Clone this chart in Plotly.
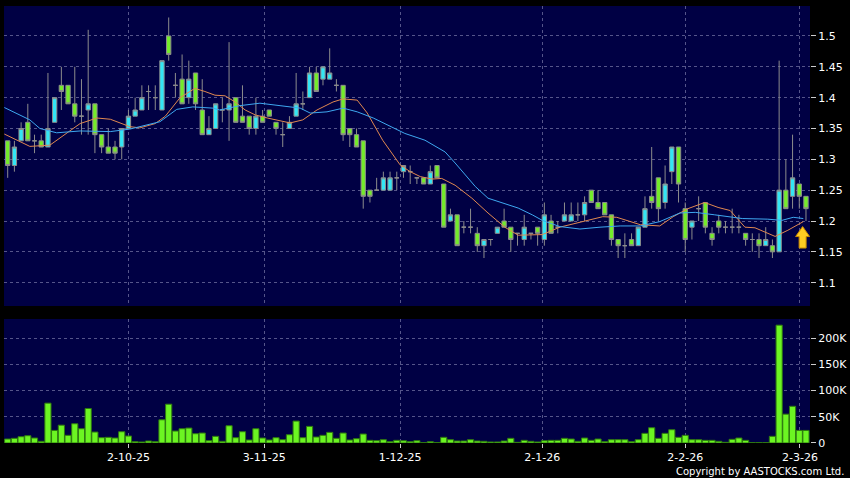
import plotly.graph_objects as go

# ---------------- data ----------------
idx = list(range(120))

opens = [1.33, 1.29, 1.33, 1.36, 1.33, 1.33, 1.32, 1.36, 1.42, 1.42,
         1.39, 1.37, 1.38, 1.39, 1.34, 1.32, 1.32, 1.32, 1.35, 1.37,
         1.38, 1.41, 1.40, 1.38, 1.50, 1.42, 1.43, 1.40, 1.44, 1.38,
         1.34, 1.35, 1.38, 1.38, 1.40, 1.37, 1.37, 1.35, 1.37, 1.38,
         1.36, 1.34, 1.35, 1.37, 1.39, 1.40, 1.44, 1.43, 1.43, 1.42,
         1.42, 1.35, 1.34, 1.33, 1.25, 1.25, 1.25, 1.25, 1.27, 1.28,
         1.28, 1.27, 1.27, 1.26, 1.29, 1.26, 1.20, 1.21, 1.19, 1.19,
         1.18, 1.16, 1.17, 1.18, 1.20, 1.19, 1.18, 1.17, 1.18, 1.19,
         1.17, 1.20, 1.19, 1.20, 1.20, 1.21, 1.21, 1.25, 1.23, 1.23,
         1.21, 1.17, 1.16, 1.17, 1.16, 1.19, 1.24, 1.27, 1.23, 1.28,
         1.32, 1.22, 1.19, 1.22, 1.23, 1.18, 1.20, 1.19, 1.19, 1.19,
         1.18, 1.17, 1.17, 1.16, 1.16, 1.15, 1.25, 1.24, 1.26, 1.24]
highs = [1.33, 1.33, 1.36, 1.39, 1.34, 1.34, 1.44, 1.40, 1.45, 1.42,
         1.45, 1.43, 1.51, 1.39, 1.34, 1.35, 1.33, 1.35, 1.38, 1.40,
         1.42, 1.42, 1.42, 1.46, 1.53, 1.44, 1.47, 1.46, 1.44, 1.43,
         1.37, 1.39, 1.40, 1.49, 1.40, 1.42, 1.37, 1.40, 1.38, 1.38,
         1.36, 1.36, 1.37, 1.44, 1.41, 1.45, 1.45, 1.45, 1.48, 1.43,
         1.42, 1.35, 1.35, 1.33, 1.25, 1.27, 1.28, 1.28, 1.28, 1.29,
         1.29, 1.27, 1.27, 1.29, 1.29, 1.26, 1.22, 1.21, 1.20, 1.22,
         1.19, 1.17, 1.17, 1.19, 1.22, 1.19, 1.18, 1.21, 1.18, 1.19,
         1.23, 1.21, 1.20, 1.23, 1.23, 1.23, 1.24, 1.25, 1.25, 1.23,
         1.21, 1.17, 1.18, 1.18, 1.19, 1.24, 1.32, 1.27, 1.29, 1.32,
         1.32, 1.23, 1.20, 1.24, 1.23, 1.19, 1.21, 1.20, 1.22, 1.21,
         1.18, 1.18, 1.18, 1.19, 1.17, 1.46, 1.30, 1.34, 1.26, 1.24]
lows = [1.27, 1.28, 1.33, 1.33, 1.31, 1.32, 1.32, 1.36, 1.38, 1.39,
        1.36, 1.34, 1.34, 1.31, 1.31, 1.31, 1.30, 1.30, 1.35, 1.37,
        1.38, 1.38, 1.38, 1.38, 1.46, 1.40, 1.39, 1.39, 1.38, 1.34,
        1.34, 1.35, 1.36, 1.33, 1.36, 1.36, 1.34, 1.34, 1.36, 1.37,
        1.34, 1.32, 1.35, 1.37, 1.38, 1.40, 1.41, 1.42, 1.43, 1.41,
        1.33, 1.32, 1.32, 1.22, 1.23, 1.25, 1.25, 1.25, 1.25, 1.27,
        1.26, 1.26, 1.26, 1.26, 1.27, 1.19, 1.20, 1.16, 1.18, 1.18,
        1.15, 1.14, 1.16, 1.18, 1.19, 1.15, 1.16, 1.16, 1.17, 1.16,
        1.16, 1.18, 1.18, 1.20, 1.20, 1.20, 1.20, 1.23, 1.22, 1.21,
        1.16, 1.14, 1.14, 1.16, 1.16, 1.19, 1.22, 1.20, 1.22, 1.26,
        1.23, 1.15, 1.17, 1.20, 1.18, 1.16, 1.18, 1.18, 1.18, 1.18,
        1.16, 1.15, 1.14, 1.16, 1.14, 1.15, 1.22, 1.22, 1.22, 1.20]
closes = [1.29, 1.32, 1.35, 1.33, 1.33, 1.32, 1.35, 1.40, 1.41, 1.39,
          1.37, 1.37, 1.39, 1.34, 1.32, 1.31, 1.31, 1.35, 1.37, 1.38,
          1.40, 1.41, 1.40, 1.46, 1.47, 1.42, 1.39, 1.43, 1.39, 1.34,
          1.35, 1.39, 1.38, 1.39, 1.36, 1.36, 1.35, 1.37, 1.36, 1.37,
          1.35, 1.34, 1.36, 1.39, 1.39, 1.44, 1.41, 1.45, 1.44, 1.42,
          1.34, 1.34, 1.32, 1.24, 1.24, 1.25, 1.27, 1.27, 1.27, 1.29,
          1.28, 1.27, 1.26, 1.28, 1.27, 1.19, 1.21, 1.16, 1.19, 1.19,
          1.16, 1.17, 1.17, 1.19, 1.19, 1.17, 1.18, 1.19, 1.18, 1.18,
          1.21, 1.18, 1.19, 1.21, 1.21, 1.21, 1.23, 1.23, 1.22, 1.21,
          1.17, 1.16, 1.16, 1.16, 1.19, 1.22, 1.23, 1.22, 1.26, 1.32,
          1.26, 1.17, 1.20, 1.22, 1.19, 1.17, 1.19, 1.19, 1.19, 1.19,
          1.17, 1.17, 1.16, 1.17, 1.15, 1.25, 1.22, 1.27, 1.24, 1.22]
volumes = [7600, 8900, 12000, 13900, 9500, 3200, 76000, 24000, 34000, 14600,
           36700, 27200, 65800, 20900, 10100, 10800, 9500, 21500, 13300, 2500,
           1900, 3800, 2500, 44300, 74000, 22800, 27200, 28500, 17700, 19000,
           4400, 12700, 3200, 32900, 10100, 21500, 5700, 27200, 9500, 5700,
           10100, 6300, 15800, 41800, 10100, 31700, 11400, 14600, 20300, 8900,
           19000, 5700, 8200, 17100, 5100, 4400, 6300, 2500, 5100, 4400,
           2500, 4400, 600, 2500, 1000, 10800, 6300, 3800, 3800, 6300,
           3800, 3200, 1900, 1900, 3800, 8900, 1300, 5100, 3200, 1900,
           4400, 5100, 5100, 8900, 7600, 3200, 9500, 5100, 7600, 2500,
           6300, 6300, 6300, 2500, 6300, 18400, 29100, 8900, 18400, 25300,
           10800, 14600, 6300, 6300, 5100, 5100, 3200, 1300, 7000, 9500,
           5100, 600, 600, 600, 12700, 224700, 55000, 70000, 24000, 24000]

# short (orange) and long (blue) moving averages
ma_short_x = [-0.5, 3.3, 6.3, 10.8, 13.3, 15.3, 18.2, 19.7, 22.0, 23.5,
              25.7, 27.9, 29.4, 30.9, 32.4, 33.9, 35.4, 36.9, 38.7, 42.1,
              44.0, 46.1, 48.5, 50.0, 52.1, 53.6, 55.9, 58.5, 60.0, 61.5,
              63.3, 64.7, 66.7, 69.2, 71.6, 74.1, 76.1, 78.2, 79.7, 82.3,
              85.8, 88.7, 90.8, 94.3, 97.2, 99.2, 101.4, 103.9, 105.9, 107.7,
              109.9, 111.4, 114.4, 116.3, 118.6]
ma_short_y = [1.341, 1.321, 1.323, 1.358, 1.367, 1.365, 1.353, 1.351, 1.358, 1.370,
              1.400, 1.415, 1.410, 1.404, 1.403, 1.393, 1.380, 1.372, 1.367, 1.359,
              1.364, 1.380, 1.393, 1.398, 1.396, 1.375, 1.331, 1.291, 1.280, 1.272,
              1.268, 1.269, 1.258, 1.237, 1.213, 1.190, 1.177, 1.177, 1.178, 1.190,
              1.199, 1.207, 1.206, 1.194, 1.192, 1.207, 1.220, 1.230, 1.222, 1.217,
              1.190, 1.189, 1.175, 1.185, 1.199]
ma_long_x = [-0.5, 1.8, 3.3, 4.8, 7.3, 10.8, 15.3, 18.2, 19.7, 22.7,
             25.2, 27.6, 30.6, 31.6, 34.6, 37.6, 40.6, 43.6, 45.1, 47.6,
             50.0, 52.1, 54.5, 57.0, 59.2, 62.2, 65.2, 66.7, 68.2, 69.7,
             71.6, 73.7, 76.1, 78.2, 79.7, 82.3, 85.3, 88.3, 91.3, 94.3,
             97.2, 100.2, 102.5, 105.4, 109.5, 113.3, 115.4, 117.1, 118.6]
ma_long_y = [1.384, 1.372, 1.364, 1.350, 1.343, 1.346, 1.345, 1.349, 1.353, 1.361,
             1.381, 1.385, 1.383, 1.380, 1.387, 1.391, 1.387, 1.383, 1.375, 1.377,
             1.383, 1.377, 1.367, 1.354, 1.342, 1.331, 1.312, 1.294, 1.275, 1.256,
             1.237, 1.229, 1.221, 1.210, 1.201, 1.191, 1.187, 1.190, 1.192, 1.192,
             1.199, 1.213, 1.214, 1.210, 1.204, 1.203, 1.201, 1.206, 1.204]

date_tick_pos = [18, 38.25, 58.5, 79.7, 101, 118.1]
date_tick_text = ["2-10-25", "3-11-25", "1-12-25", "2-1-26", "2-2-26", "2-3-26"]
price_ticks = [1.1, 1.15, 1.2, 1.25, 1.3, 1.35, 1.4, 1.45, 1.5]
price_tick_text = ["1.1", "1.15", "1.2", "1.25", "1.3", "1.35", "1.4", "1.45", "1.5"]
vol_ticks = [0, 50000, 100000, 150000, 200000]
vol_tick_text = ["0", "50K", "100K", "150K", "200K"]

signal_x = 118.5      # buy-signal arrow position (candle index)
signal_price = 1.191  # arrow tip price

# ---------------- styling ----------------
BG = "#000044"
GRID = "#55558a"
FONT = "DejaVu Sans"
TXT = "#ffffff"

fig = go.Figure()

fig.add_trace(go.Candlestick(
    x=idx, open=opens, high=highs, low=lows, close=closes,
    increasing=dict(fillcolor="#33e6f5", line=dict(color="#8c8c8c", width=1)),
    decreasing=dict(fillcolor="#74ec2a", line=dict(color="#8c8c8c", width=1)),
    whiskerwidth=0, xaxis="x", yaxis="y", showlegend=False, hoverinfo="skip"))

fig.add_trace(go.Scatter(x=ma_short_x, y=ma_short_y, mode="lines",
                         line=dict(color="#e08850", width=1),
                         xaxis="x", yaxis="y", showlegend=False, hoverinfo="skip"))
fig.add_trace(go.Scatter(x=ma_long_x, y=ma_long_y, mode="lines",
                         line=dict(color="#3ea8f0", width=1),
                         xaxis="x", yaxis="y", showlegend=False, hoverinfo="skip"))

fig.add_trace(go.Bar(x=idx, y=volumes, marker=dict(color="#6cf522",
                     line=dict(color="#2f7a10", width=1)),
                     xaxis="x2", yaxis="y2", showlegend=False, hoverinfo="skip"))

axis_common = dict(showgrid=True, gridcolor=GRID, griddash="3px,3px", gridwidth=1,
                   zeroline=False, showline=False, automargin=False,
                   tickfont=dict(family=FONT, size=11, color=TXT))

fig.update_layout(
    width=850, height=478,
    margin=dict(l=4, r=40, t=6, b=35, autoexpand=False),
    paper_bgcolor="#000000", plot_bgcolor=BG,
    boxgap=0.08, bargap=0.08,
    xaxis=dict(domain=[0, 1], anchor="y", range=[-0.55, 119.6],
               tickvals=date_tick_pos, showticklabels=False, ticks="",
               rangeslider=dict(visible=False), **axis_common),
    yaxis=dict(domain=[0.3135, 1], anchor="x", range=[1.0622, 1.5486], side="right",
               tickvals=price_ticks, ticktext=price_tick_text,
               ticks="outside", ticklen=5, tickcolor="#cccccc", **axis_common),
    xaxis2=dict(domain=[0, 1], anchor="y2", matches="x", range=[-0.55, 119.6],
                tickvals=date_tick_pos, ticktext=date_tick_text,
                ticks="outside", ticklen=4, tickcolor="#cccccc", **axis_common),
    yaxis2=dict(domain=[0, 0.2838], anchor="x2", range=[0, 236500], side="right",
                tickvals=vol_ticks, ticktext=vol_tick_text,
                ticks="outside", ticklen=5, tickcolor="#cccccc", **axis_common),
    shapes=[dict(type="path", xref="x", yref="y",
                 xsizemode="pixel", ysizemode="pixel",
                 xanchor=signal_x, yanchor=signal_price,
                 path="M 0 0 L 7 -10 L 3.5 -10 L 3.5 -21.5 L -3.5 -21.5 L -3.5 -10 L -7 -10 Z",
                 fillcolor="#ffcc22", line=dict(color="#c98a00", width=1), layer="above")],
    annotations=[dict(text="Copyright by AASTOCKS.com Ltd.", xref="paper", yref="paper",
                      x=1.0447, y=-0.066, xanchor="right", yanchor="middle", showarrow=False,
                      font=dict(family=FONT, size=10, color=TXT))],
)

fig.write_html("out.html", config={"displayModeBar": False, "staticPlot": True},
               post_script="document.body.style.margin='0';document.body.style.background='#000';")
